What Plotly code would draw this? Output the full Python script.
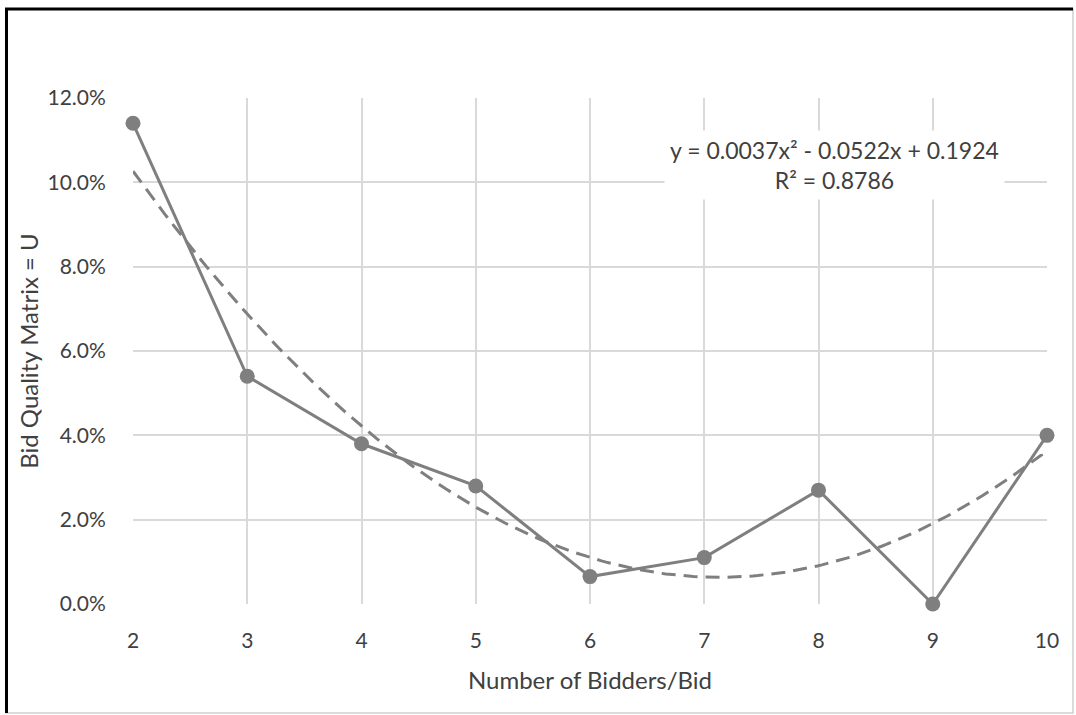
import numpy as np
import plotly.graph_objects as go

bidders = [2, 3, 4, 5, 6, 7, 8, 9, 10]
quality = [0.114, 0.054, 0.038, 0.028, 0.0065, 0.011, 0.027, 0.0, 0.040]
y_ticks = [0.0, 0.02, 0.04, 0.06, 0.08, 0.10, 0.12]
eq_text = "y = 0.0037x² - 0.0522x + 0.1924<br>R² = 0.8786"

coef = np.polyfit(bidders, quality, 2)
xs = np.linspace(min(bidders), max(bidders), 200)
ys = np.polyval(coef, xs)

GRAY = "#7f7f7f"
TXT = "#404040"
FONT = "Lato, 'Open Sans', sans-serif"

fig = go.Figure()
fig.add_trace(go.Scatter(x=xs, y=ys, mode="lines",
                         line=dict(color=GRAY, width=3, dash="14px,8px"),
                         showlegend=False, hoverinfo="skip", cliponaxis=False))
fig.add_trace(go.Scatter(x=bidders, y=quality, mode="lines+markers",
                         line=dict(color=GRAY, width=3),
                         marker=dict(color=GRAY, size=15),
                         showlegend=False, cliponaxis=False))

L, R, T, B = 133, 29, 98, 111
W, H = 1076, 715
pw, ph = W - L - R, H - T - B

def px(x):
    return (x - L) / pw

def py(y):
    return (H - B - y) / ph

fig.add_shape(type="rect", xref="paper", yref="paper",
              x0=px(6), x1=px(1073), y0=py(713), y1=py(9),
              line=dict(color="#d0d0d0", width=1.5), layer="below")
fig.add_shape(type="line", xref="paper", yref="paper",
              x0=px(6.5), x1=px(6.5), y0=py(713), y1=py(8),
              line=dict(color="black", width=3))
fig.add_shape(type="line", xref="paper", yref="paper",
              x0=px(5), x1=px(1073), y0=py(9), y1=py(9),
              line=dict(color="black", width=3))

fig.add_annotation(x=8.14, y=0.1042, xref="x", yref="y", text=eq_text,
                   showarrow=False, bgcolor="white", borderpad=5,
                   font=dict(family=FONT, size=23, color=TXT), align="center")

fig.update_layout(
    width=W, height=H,
    margin=dict(l=L, r=R, t=T, b=B),
    paper_bgcolor="white", plot_bgcolor="white",
    font=dict(family=FONT, size=21, color=TXT),
)
fig.update_xaxes(range=[2, 10], tickmode="array", tickvals=bidders,
                 ticktext=[str(b) for b in bidders],
                 showgrid=True, gridcolor="#d9d9d9", gridwidth=1.5,
                 zeroline=False, showline=False,
                 ticks="outside", ticklen=18, tickcolor="rgba(0,0,0,0)",
                 title=dict(text="Number of Bidders/Bid", standoff=20,
                            font=dict(size=24)))
fig.update_yaxes(range=[0, 0.12], tickmode="array", tickvals=y_ticks,
                 tickformat=".1%",
                 showgrid=True, gridcolor="#d9d9d9", gridwidth=1.5,
                 zeroline=False, showline=False,
                 ticks="outside", ticklen=22, tickcolor="rgba(0,0,0,0)",
                 title=dict(text="Bid Quality Matrix = U", standoff=2,
                            font=dict(size=24)))

fig.write_html("out.html")
